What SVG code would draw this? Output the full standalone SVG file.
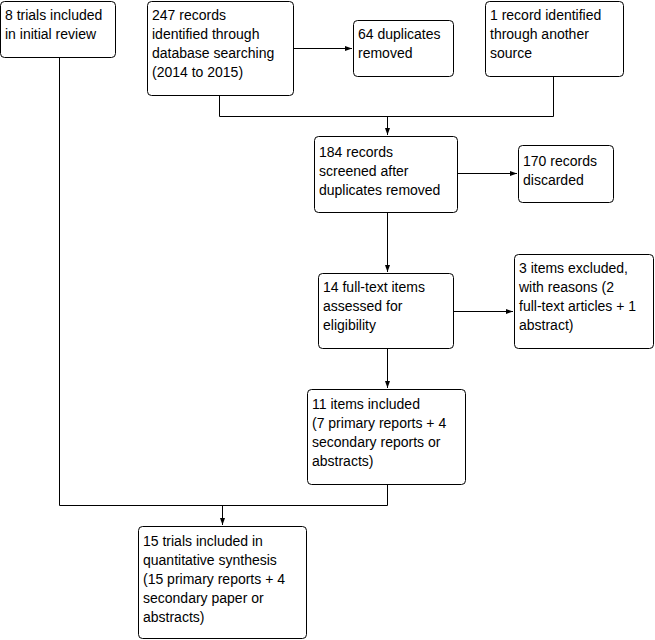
<svg xmlns="http://www.w3.org/2000/svg" width="655" height="640" viewBox="0 0 655 640">
<defs>
<style>
.box{fill:#fff;stroke:#000;stroke-width:1}
.t{font-family:"Liberation Sans",Arial,sans-serif;font-size:14px;fill:#000}
.c{fill:none;stroke:#000;stroke-width:1}
</style>
<marker id="ah" markerWidth="7" markerHeight="6" refX="7" refY="3" orient="auto" markerUnits="userSpaceOnUse">
<path d="M0,0.5 L7,3 L0,5.5 Z" fill="#000"/>
</marker>
</defs>
<rect width="655" height="640" fill="#fff"/>
<g id="connectors">
<path class="c" d="M293.5,48.5 H352" marker-end="url(#ah)"/>
<path class="c" d="M219.5,96 V116.5 H553.5 V76"/>
<path class="c" d="M387.5,116.5 V135" marker-end="url(#ah)"/>
<path class="c" d="M457,173.5 H517" marker-end="url(#ah)"/>
<path class="c" d="M387.5,212 V272" marker-end="url(#ah)"/>
<path class="c" d="M453,311.5 H513" marker-end="url(#ah)"/>
<path class="c" d="M387.5,348 V388" marker-end="url(#ah)"/>
<path class="c" d="M387.5,484 V505.5 H59.5 V57"/>
<path class="c" d="M222.5,505.5 V525" marker-end="url(#ah)"/>
</g>
<g id="n1"><rect class="box" x="0.5" y="1.5" width="115" height="56" rx="4"/>
<text class="t" x="5" y="20">8 trials included</text><text class="t" x="5" y="39">in initial review</text></g>
<g id="n2"><rect class="box" x="147.5" y="1.5" width="146" height="94" rx="4"/>
<text class="t" x="152" y="20">247 records</text><text class="t" x="152" y="39">identified through</text><text class="t" x="152" y="58">database searching</text><text class="t" x="152" y="77">(2014 to 2015)</text></g>
<g id="n3"><rect class="box" x="353.5" y="20.5" width="100" height="56" rx="4"/>
<text class="t" x="358" y="39">64 duplicates</text><text class="t" x="358" y="58">removed</text></g>
<g id="n4"><rect class="box" x="485.5" y="1.5" width="138" height="75" rx="4"/>
<text class="t" x="490" y="20">1 record identified</text><text class="t" x="490" y="39">through another</text><text class="t" x="490" y="58">source</text></g>
<g id="n5"><rect class="box" x="314.5" y="136.5" width="143" height="76" rx="4"/>
<text class="t" x="319" y="157">184 records</text><text class="t" x="319" y="176">screened after</text><text class="t" x="319" y="195">duplicates removed</text></g>
<g id="n6"><rect class="box" x="518.5" y="145.5" width="95" height="57" rx="4"/>
<text class="t" x="523" y="166">170 records</text><text class="t" x="523" y="185">discarded</text></g>
<g id="n7"><rect class="box" x="318.5" y="273.5" width="135" height="75" rx="4"/>
<text class="t" x="323" y="292">14 full-text items</text><text class="t" x="323" y="311">assessed for</text><text class="t" x="323" y="330">eligibility</text></g>
<g id="n8"><rect class="box" x="514.5" y="254.5" width="139" height="94" rx="4"/>
<text class="t" x="519" y="273">3 items excluded,</text><text class="t" x="519" y="292">with reasons (2</text><text class="t" x="519" y="311">full-text articles + 1</text><text class="t" x="519" y="330">abstract)</text></g>
<g id="n9"><rect class="box" x="307.5" y="389.5" width="158" height="95" rx="4"/>
<text class="t" x="312" y="409">11 items included</text><text class="t" x="312" y="428">(7 primary reports + 4</text><text class="t" x="312" y="447">secondary reports or</text><text class="t" x="312" y="466">abstracts)</text></g>
<g id="n10"><rect class="box" x="138.5" y="526.5" width="168" height="112" rx="4"/>
<text class="t" x="143" y="546">15 trials included in</text><text class="t" x="143" y="565">quantitative synthesis</text><text class="t" x="143" y="584">(15 primary reports + 4</text><text class="t" x="143" y="603">secondary paper or</text><text class="t" x="143" y="622">abstracts)</text></g>
</svg>
